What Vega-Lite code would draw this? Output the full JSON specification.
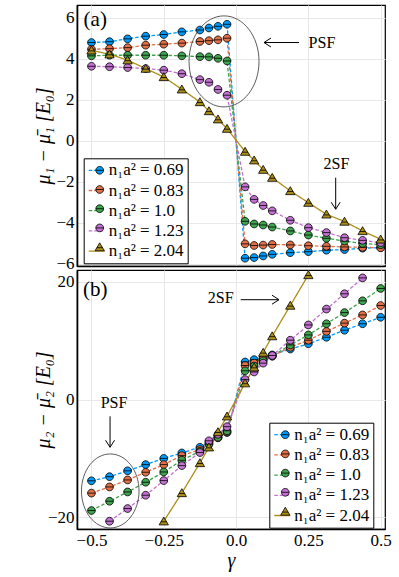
{
  "$schema": "https://vega.github.io/schema/vega-lite/v6.json",
  "padding": {"left": 32, "top": 4, "right": 5, "bottom": 5},
  "spacing": 4,
  "bounds": "flush",
  "config": {
    "font": "Liberation Serif",
    "view": {"stroke": "black", "strokeWidth": 1.2},
    "axis": {"grid": true, "gridColor": "#e8e8e8", "gridWidth": 1, "ticks": false, "domain": true, "domainColor": "black", "domainWidth": 1.6, "labelFont": "Liberation Serif", "labelFontSize": 17, "labelColor": "black", "titleFont": "Liberation Serif", "titleFontSize": 20, "titleFontWeight": "normal", "titleColor": "black", "labelPadding": 3, "labelFlush": false}
  },
  "resolve": {"scale": {"y": "independent", "color": "independent", "fill": "independent", "shape": "independent", "strokeDash": "independent"}, "legend": {"color": "independent", "fill": "independent", "shape": "independent", "strokeDash": "independent"}},
  "datasets": {
    "a": [
      {"s": "n₁a² = 0.69", "g": -0.5, "y": 4.80}, {"s": "n₁a² = 0.69", "g": -0.4375, "y": 4.84}, {"s": "n₁a² = 0.69", "g": -0.375, "y": 4.98}, {"s": "n₁a² = 0.69", "g": -0.3125, "y": 5.11}, {"s": "n₁a² = 0.69", "g": -0.25, "y": 5.19}, {"s": "n₁a² = 0.69", "g": -0.1875, "y": 5.32}, {"s": "n₁a² = 0.69", "g": -0.125, "y": 5.41}, {"s": "n₁a² = 0.69", "g": -0.09375, "y": 5.51}, {"s": "n₁a² = 0.69", "g": -0.0625, "y": 5.59}, {"s": "n₁a² = 0.69", "g": -0.03125, "y": 5.69},
      {"s": "n₁a² = 0.69", "g": 0.03125, "y": -5.72}, {"s": "n₁a² = 0.69", "g": 0.0625, "y": -5.69}, {"s": "n₁a² = 0.69", "g": 0.09375, "y": -5.61}, {"s": "n₁a² = 0.69", "g": 0.125, "y": -5.53}, {"s": "n₁a² = 0.69", "g": 0.1875, "y": -5.45}, {"s": "n₁a² = 0.69", "g": 0.25, "y": -5.40}, {"s": "n₁a² = 0.69", "g": 0.3125, "y": -5.33}, {"s": "n₁a² = 0.69", "g": 0.375, "y": -5.30}, {"s": "n₁a² = 0.69", "g": 0.4375, "y": -5.23}, {"s": "n₁a² = 0.69", "g": 0.5, "y": -5.20},
      {"s": "n₁a² = 0.83", "g": -0.5, "y": 4.47}, {"s": "n₁a² = 0.83", "g": -0.4375, "y": 4.50}, {"s": "n₁a² = 0.83", "g": -0.375, "y": 4.55}, {"s": "n₁a² = 0.83", "g": -0.3125, "y": 4.67}, {"s": "n₁a² = 0.83", "g": -0.25, "y": 4.72}, {"s": "n₁a² = 0.83", "g": -0.1875, "y": 4.77}, {"s": "n₁a² = 0.83", "g": -0.125, "y": 4.85}, {"s": "n₁a² = 0.83", "g": -0.09375, "y": 4.89}, {"s": "n₁a² = 0.83", "g": -0.0625, "y": 4.93}, {"s": "n₁a² = 0.83", "g": -0.03125, "y": 5.01},
      {"s": "n₁a² = 0.83", "g": 0.03125, "y": -5.02}, {"s": "n₁a² = 0.83", "g": 0.0625, "y": -5.10}, {"s": "n₁a² = 0.83", "g": 0.09375, "y": -5.08}, {"s": "n₁a² = 0.83", "g": 0.125, "y": -5.05}, {"s": "n₁a² = 0.83", "g": 0.1875, "y": -5.07}, {"s": "n₁a² = 0.83", "g": 0.25, "y": -5.11}, {"s": "n₁a² = 0.83", "g": 0.3125, "y": -5.14}, {"s": "n₁a² = 0.83", "g": 0.375, "y": -5.17}, {"s": "n₁a² = 0.83", "g": 0.4375, "y": -5.19}, {"s": "n₁a² = 0.83", "g": 0.5, "y": -5.21},
      {"s": "n₁a² = 1.0", "g": -0.5, "y": 4.15}, {"s": "n₁a² = 1.0", "g": -0.4375, "y": 4.18}, {"s": "n₁a² = 1.0", "g": -0.375, "y": 4.18}, {"s": "n₁a² = 1.0", "g": -0.3125, "y": 4.18}, {"s": "n₁a² = 1.0", "g": -0.25, "y": 4.18}, {"s": "n₁a² = 1.0", "g": -0.1875, "y": 4.15}, {"s": "n₁a² = 1.0", "g": -0.125, "y": 4.11}, {"s": "n₁a² = 1.0", "g": -0.09375, "y": 4.10}, {"s": "n₁a² = 1.0", "g": -0.0625, "y": 4.03}, {"s": "n₁a² = 1.0", "g": -0.03125, "y": 3.90},
      {"s": "n₁a² = 1.0", "g": 0.03125, "y": -3.92}, {"s": "n₁a² = 1.0", "g": 0.0625, "y": -4.05}, {"s": "n₁a² = 1.0", "g": 0.09375, "y": -4.10}, {"s": "n₁a² = 1.0", "g": 0.125, "y": -4.20}, {"s": "n₁a² = 1.0", "g": 0.1875, "y": -4.39}, {"s": "n₁a² = 1.0", "g": 0.25, "y": -4.59}, {"s": "n₁a² = 1.0", "g": 0.3125, "y": -4.75}, {"s": "n₁a² = 1.0", "g": 0.375, "y": -4.88}, {"s": "n₁a² = 1.0", "g": 0.4375, "y": -5.00}, {"s": "n₁a² = 1.0", "g": 0.5, "y": -5.06},
      {"s": "n₁a² = 1.23", "g": -0.5, "y": 3.64}, {"s": "n₁a² = 1.23", "g": -0.4375, "y": 3.62}, {"s": "n₁a² = 1.23", "g": -0.375, "y": 3.58}, {"s": "n₁a² = 1.23", "g": -0.3125, "y": 3.53}, {"s": "n₁a² = 1.23", "g": -0.25, "y": 3.45}, {"s": "n₁a² = 1.23", "g": -0.1875, "y": 3.28}, {"s": "n₁a² = 1.23", "g": -0.125, "y": 2.99}, {"s": "n₁a² = 1.23", "g": -0.09375, "y": 2.86}, {"s": "n₁a² = 1.23", "g": -0.0625, "y": 2.51}, {"s": "n₁a² = 1.23", "g": -0.03125, "y": 2.23},
      {"s": "n₁a² = 1.23", "g": 0.03125, "y": -2.24}, {"s": "n₁a² = 1.23", "g": 0.0625, "y": -2.85}, {"s": "n₁a² = 1.23", "g": 0.09375, "y": -3.15}, {"s": "n₁a² = 1.23", "g": 0.125, "y": -3.41}, {"s": "n₁a² = 1.23", "g": 0.1875, "y": -3.87}, {"s": "n₁a² = 1.23", "g": 0.25, "y": -4.23}, {"s": "n₁a² = 1.23", "g": 0.3125, "y": -4.47}, {"s": "n₁a² = 1.23", "g": 0.375, "y": -4.72}, {"s": "n₁a² = 1.23", "g": 0.4375, "y": -4.85}, {"s": "n₁a² = 1.23", "g": 0.5, "y": -4.96},
      {"s": "n₁a² = 2.04", "g": -0.5, "y": 4.42}, {"s": "n₁a² = 2.04", "g": -0.4375, "y": 4.23}, {"s": "n₁a² = 2.04", "g": -0.375, "y": 3.94}, {"s": "n₁a² = 2.04", "g": -0.3125, "y": 3.53}, {"s": "n₁a² = 2.04", "g": -0.25, "y": 3.12}, {"s": "n₁a² = 2.04", "g": -0.1875, "y": 2.52}, {"s": "n₁a² = 2.04", "g": -0.125, "y": 1.90}, {"s": "n₁a² = 2.04", "g": -0.09375, "y": 1.46}, {"s": "n₁a² = 2.04", "g": -0.0625, "y": 1.06}, {"s": "n₁a² = 2.04", "g": -0.03125, "y": 0.60},
      {"s": "n₁a² = 2.04", "g": 0.03125, "y": -0.52}, {"s": "n₁a² = 2.04", "g": 0.0625, "y": -0.94}, {"s": "n₁a² = 2.04", "g": 0.09375, "y": -1.40}, {"s": "n₁a² = 2.04", "g": 0.125, "y": -1.79}, {"s": "n₁a² = 2.04", "g": 0.1875, "y": -2.44}, {"s": "n₁a² = 2.04", "g": 0.25, "y": -3.01}, {"s": "n₁a² = 2.04", "g": 0.3125, "y": -3.58}, {"s": "n₁a² = 2.04", "g": 0.375, "y": -3.93}, {"s": "n₁a² = 2.04", "g": 0.4375, "y": -4.39}, {"s": "n₁a² = 2.04", "g": 0.5, "y": -4.80}
    ],
    "b": [
      {"s": "n₁a² = 0.69", "g": -0.5, "y": -13.8}, {"s": "n₁a² = 0.69", "g": -0.4375, "y": -13.1}, {"s": "n₁a² = 0.69", "g": -0.375, "y": -12.1}, {"s": "n₁a² = 0.69", "g": -0.3125, "y": -11.05}, {"s": "n₁a² = 0.69", "g": -0.25, "y": -10.0}, {"s": "n₁a² = 0.69", "g": -0.1875, "y": -9.07}, {"s": "n₁a² = 0.69", "g": -0.125, "y": -8.1}, {"s": "n₁a² = 0.69", "g": -0.09375, "y": -7.2}, {"s": "n₁a² = 0.69", "g": -0.0625, "y": -6.4}, {"s": "n₁a² = 0.69", "g": -0.03125, "y": -5.6},
      {"s": "n₁a² = 0.69", "g": 0.03125, "y": 6.4}, {"s": "n₁a² = 0.69", "g": 0.0625, "y": 6.8}, {"s": "n₁a² = 0.69", "g": 0.09375, "y": 7.2}, {"s": "n₁a² = 0.69", "g": 0.125, "y": 7.6}, {"s": "n₁a² = 0.69", "g": 0.1875, "y": 8.6}, {"s": "n₁a² = 0.69", "g": 0.25, "y": 9.5}, {"s": "n₁a² = 0.69", "g": 0.3125, "y": 10.6}, {"s": "n₁a² = 0.69", "g": 0.375, "y": 11.8}, {"s": "n₁a² = 0.69", "g": 0.4375, "y": 12.9}, {"s": "n₁a² = 0.69", "g": 0.5, "y": 14.0},
      {"s": "n₁a² = 0.83", "g": -0.5, "y": -15.9}, {"s": "n₁a² = 0.83", "g": -0.4375, "y": -14.85}, {"s": "n₁a² = 0.83", "g": -0.375, "y": -13.66}, {"s": "n₁a² = 0.83", "g": -0.3125, "y": -12.35}, {"s": "n₁a² = 0.83", "g": -0.25, "y": -11.05}, {"s": "n₁a² = 0.83", "g": -0.1875, "y": -9.52}, {"s": "n₁a² = 0.83", "g": -0.125, "y": -8.5}, {"s": "n₁a² = 0.83", "g": -0.09375, "y": -7.4}, {"s": "n₁a² = 0.83", "g": -0.0625, "y": -6.5}, {"s": "n₁a² = 0.83", "g": -0.03125, "y": -5.5},
      {"s": "n₁a² = 0.83", "g": 0.03125, "y": 5.8}, {"s": "n₁a² = 0.83", "g": 0.0625, "y": 6.2}, {"s": "n₁a² = 0.83", "g": 0.09375, "y": 6.9}, {"s": "n₁a² = 0.83", "g": 0.125, "y": 7.4}, {"s": "n₁a² = 0.83", "g": 0.1875, "y": 8.9}, {"s": "n₁a² = 0.83", "g": 0.25, "y": 10.1}, {"s": "n₁a² = 0.83", "g": 0.3125, "y": 11.6}, {"s": "n₁a² = 0.83", "g": 0.375, "y": 13.0}, {"s": "n₁a² = 0.83", "g": 0.4375, "y": 14.4}, {"s": "n₁a² = 0.83", "g": 0.5, "y": 16.0},
      {"s": "n₁a² = 1.0", "g": -0.5, "y": -18.86}, {"s": "n₁a² = 1.0", "g": -0.4375, "y": -17.28}, {"s": "n₁a² = 1.0", "g": -0.375, "y": -15.7}, {"s": "n₁a² = 1.0", "g": -0.3125, "y": -14.05}, {"s": "n₁a² = 1.0", "g": -0.25, "y": -12.3}, {"s": "n₁a² = 1.0", "g": -0.1875, "y": -10.31}, {"s": "n₁a² = 1.0", "g": -0.125, "y": -8.8}, {"s": "n₁a² = 1.0", "g": -0.09375, "y": -7.6}, {"s": "n₁a² = 1.0", "g": -0.0625, "y": -6.4}, {"s": "n₁a² = 1.0", "g": -0.03125, "y": -5.3},
      {"s": "n₁a² = 1.0", "g": 0.03125, "y": 4.9}, {"s": "n₁a² = 1.0", "g": 0.0625, "y": 5.7}, {"s": "n₁a² = 1.0", "g": 0.09375, "y": 6.6}, {"s": "n₁a² = 1.0", "g": 0.125, "y": 7.4}, {"s": "n₁a² = 1.0", "g": 0.1875, "y": 9.3}, {"s": "n₁a² = 1.0", "g": 0.25, "y": 11.0}, {"s": "n₁a² = 1.0", "g": 0.3125, "y": 12.9}, {"s": "n₁a² = 1.0", "g": 0.375, "y": 14.8}, {"s": "n₁a² = 1.0", "g": 0.4375, "y": 16.8}, {"s": "n₁a² = 1.0", "g": 0.5, "y": 18.9},
      {"s": "n₁a² = 1.23", "g": -0.4375, "y": -20.68}, {"s": "n₁a² = 1.23", "g": -0.375, "y": -18.52}, {"s": "n₁a² = 1.23", "g": -0.3125, "y": -16.26}, {"s": "n₁a² = 1.23", "g": -0.25, "y": -13.77}, {"s": "n₁a² = 1.23", "g": -0.1875, "y": -11.22}, {"s": "n₁a² = 1.23", "g": -0.125, "y": -9.0}, {"s": "n₁a² = 1.23", "g": -0.09375, "y": -7.0}, {"s": "n₁a² = 1.23", "g": -0.0625, "y": -5.9}, {"s": "n₁a² = 1.23", "g": -0.03125, "y": -4.6},
      {"s": "n₁a² = 1.23", "g": 0.03125, "y": 3.4}, {"s": "n₁a² = 1.23", "g": 0.0625, "y": 4.7}, {"s": "n₁a² = 1.23", "g": 0.09375, "y": 6.2}, {"s": "n₁a² = 1.23", "g": 0.125, "y": 7.5}, {"s": "n₁a² = 1.23", "g": 0.1875, "y": 10.1}, {"s": "n₁a² = 1.23", "g": 0.25, "y": 12.7}, {"s": "n₁a² = 1.23", "g": 0.3125, "y": 15.4}, {"s": "n₁a² = 1.23", "g": 0.375, "y": 18.0}, {"s": "n₁a² = 1.23", "g": 0.4375, "y": 20.7},
      {"s": "n₁a² = 2.04", "g": -0.25, "y": -20.68}, {"s": "n₁a² = 2.04", "g": -0.1875, "y": -15.87}, {"s": "n₁a² = 2.04", "g": -0.125, "y": -10.77}, {"s": "n₁a² = 2.04", "g": -0.09375, "y": -8.1}, {"s": "n₁a² = 2.04", "g": -0.0625, "y": -5.5}, {"s": "n₁a² = 2.04", "g": -0.03125, "y": -2.83},
      {"s": "n₁a² = 2.04", "g": 0.03125, "y": 2.8}, {"s": "n₁a² = 2.04", "g": 0.0625, "y": 5.5}, {"s": "n₁a² = 2.04", "g": 0.09375, "y": 8.0}, {"s": "n₁a² = 2.04", "g": 0.125, "y": 10.8}, {"s": "n₁a² = 2.04", "g": 0.1875, "y": 16.0}, {"s": "n₁a² = 2.04", "g": 0.25, "y": 21.2}
    ],
    "ann": [
      {"p": "a", "k": "ellipse", "g": -0.0416, "y": 3.88},
      {"p": "b", "k": "ellipse", "g": -0.435, "y": -15.53},
      {"p": "a", "k": "arrow", "dir": "left", "g": 0.2176, "y": 4.80, "g2": 0.0966, "y2": 4.80},
      {"p": "a", "k": "arrow", "dir": "down", "g": 0.3445, "y": -1.79, "g2": 0.3445, "y2": -3.33},
      {"p": "b", "k": "arrow", "dir": "right", "g": 0.016, "y": 16.99, "g2": 0.1485, "y2": 16.99},
      {"p": "b", "k": "arrow", "dir": "down", "g": -0.4357, "y": -2.84, "g2": -0.4357, "y2": -8.1},
      {"p": "a", "k": "tag", "t": "(a)", "g": -0.487, "y": 5.90},
      {"p": "b", "k": "tag", "t": "(b)", "g": -0.487, "y": 18.57},
      {"p": "a", "k": "note", "t": "PSF", "g": 0.297, "y": 4.78},
      {"p": "a", "k": "note", "t": "2SF", "g": 0.347, "y": -1.12},
      {"p": "b", "k": "note", "t": "2SF", "g": -0.053, "y": 17.26},
      {"p": "b", "k": "note", "t": "PSF", "g": -0.422, "y": -0.58}
    ]
  },
  "vconcat": [
    {
      "width": 308,
      "height": 261,
      "layer": [
        {
          "data": {"name": "a"},
          "mark": {"type": "line", "strokeWidth": 1.3, "clip": true},
          "encoding": {
            "x": {"field": "g", "type": "quantitative", "scale": {"domain": [-0.55, 0.515], "nice": false, "zero": false}, "axis": {"values": [-0.5, -0.25, 0, 0.25, 0.5], "labels": false, "title": null, "minExtent": 0, "maxExtent": 0}},
            "y": {"field": "y", "type": "quantitative", "scale": {"domain": [-6.1, 6.63], "nice": false, "zero": false}, "axis": {"values": [-6, -4, -2, 0, 2, 4, 6], "title": "μ₁ − μ̄₁ [E₀]", "titleFontStyle": "italic", "minExtent": 34, "maxExtent": 34, "titlePadding": -10}},
            "color": {"field": "s", "type": "nominal", "scale": {"domain": ["n₁a² = 0.69", "n₁a² = 0.83", "n₁a² = 1.0", "n₁a² = 1.23", "n₁a² = 2.04"], "range": ["#009AFA", "#E36F47", "#3EA44E", "#C371D2", "#AC8E18"]}, "legend": {"orient": "none", "legendX": 6.7, "legendY": 153.3, "title": null, "symbolType": "stroke", "symbolSize": 256, "symbolStrokeWidth": 1.3, "clipHeight": 16, "labelFontSize": 17, "labelFont": "Liberation Serif", "labelColor": "black", "labelOffset": 3, "rowPadding": 3.2, "padding": 4, "fillColor": "white", "strokeColor": "black", "cornerRadius": 0}},
            "strokeDash": {"field": "s", "type": "nominal", "scale": {"domain": ["n₁a² = 0.69", "n₁a² = 0.83", "n₁a² = 1.0", "n₁a² = 1.23", "n₁a² = 2.04"], "range": [[3.5, 2], [3.5, 2], [3.5, 2], [3.5, 2], [1, 0]]}}
          }
        },
        {
          "data": {"name": "a"},
          "mark": {"type": "point", "filled": true, "stroke": "black", "strokeWidth": 0.8, "opacity": 1, "size": 60, "clip": true},
          "encoding": {
            "x": {"field": "g", "type": "quantitative"},
            "y": {"field": "y", "type": "quantitative"},
            "fill": {"field": "s", "type": "nominal", "scale": {"range": ["#009AFA", "#E36F47", "#3EA44E", "#C371D2", "#AC8E18"]}, "legend": {"orient": "none", "legendX": 10.7, "legendY": 153.3, "title": null, "symbolSize": 60, "symbolStrokeColor": "black", "symbolStrokeWidth": 0.8, "symbolOpacity": 1, "clipHeight": 16, "labelExpr": "''", "labelFontSize": 16, "labelFont": "Liberation Serif", "labelOffset": 11, "rowPadding": 3.2, "padding": 4}},
            "shape": {"field": "s", "type": "nominal", "scale": {"range": ["M-1,0A1,1,0,1,0,1,0A1,1,0,1,0,-1,0ZM-1,0L1,0", "M-1,0A1,1,0,1,0,1,0A1,1,0,1,0,-1,0ZM-1,0L1,0", "M-1,0A1,1,0,1,0,1,0A1,1,0,1,0,-1,0ZM-1,0L1,0", "M-1,0A1,1,0,1,0,1,0A1,1,0,1,0,-1,0ZM-1,0L1,0", "M0,-1.1L1.2,0.95L-1.2,0.95ZM-0.75,0.15L0.75,0.15"]}}
          }
        },
        {
          "data": {"name": "ann"},
          "transform": [{"filter": "datum.p == 'a' && datum.k == 'ellipse'"}],
          "mark": {"type": "point", "shape": "M-0.769,0A0.769,1,0,1,0,0.769,0A0.769,1,0,1,0,-0.769,0Z", "size": 8281, "filled": false, "stroke": "#333333", "strokeWidth": 0.8, "opacity": 1},
          "encoding": {"x": {"field": "g", "type": "quantitative"}, "y": {"field": "y", "type": "quantitative"}}
        },
        {
          "data": {"name": "ann"},
          "transform": [{"filter": "datum.p == 'a' && datum.k == 'arrow'"}],
          "mark": {"type": "rule", "stroke": "black", "strokeWidth": 1},
          "encoding": {"x": {"field": "g", "type": "quantitative"}, "y": {"field": "y", "type": "quantitative"}, "x2": {"field": "g2"}, "y2": {"field": "y2"}}
        },
        {
          "data": {"name": "ann"},
          "transform": [{"filter": "datum.p == 'a' && datum.dir == 'left'"}],
          "mark": {"type": "point", "shape": "M1,-0.64L0,0L1,0.64", "size": 196, "filled": false, "stroke": "black", "strokeWidth": 1, "opacity": 1},
          "encoding": {"x": {"field": "g2", "type": "quantitative"}, "y": {"field": "y2", "type": "quantitative"}}
        },
        {
          "data": {"name": "ann"},
          "transform": [{"filter": "datum.p == 'a' && datum.dir == 'down'"}],
          "mark": {"type": "point", "shape": "M-0.64,-1L0,0L0.64,-1", "size": 196, "filled": false, "stroke": "black", "strokeWidth": 1, "opacity": 1},
          "encoding": {"x": {"field": "g2", "type": "quantitative"}, "y": {"field": "y2", "type": "quantitative"}}
        },
        {
          "data": {"name": "ann"},
          "transform": [{"filter": "datum.p == 'a' && datum.k == 'tag'"}],
          "mark": {"type": "text", "font": "Liberation Serif", "fontSize": 21, "align": "center", "baseline": "middle", "color": "black"},
          "encoding": {"x": {"field": "g", "type": "quantitative"}, "y": {"field": "y", "type": "quantitative"}, "text": {"field": "t"}}
        },
        {
          "data": {"name": "ann"},
          "transform": [{"filter": "datum.p == 'a' && datum.k == 'note'"}],
          "mark": {"type": "text", "font": "Liberation Serif", "fontSize": 16, "align": "center", "baseline": "middle", "color": "black"},
          "encoding": {"x": {"field": "g", "type": "quantitative"}, "y": {"field": "y", "type": "quantitative"}, "text": {"field": "t"}}
        }
      ]
    },
    {
      "width": 308,
      "height": 259,
      "layer": [
        {
          "data": {"name": "b"},
          "mark": {"type": "line", "strokeWidth": 1.3, "clip": true},
          "encoding": {
            "x": {"field": "g", "type": "quantitative", "scale": {"domain": [-0.55, 0.515], "nice": false, "zero": false}, "axis": {"values": [-0.5, -0.25, 0, 0.25, 0.5], "labelExpr": "datum.value == 0 ? '0.0' : format(datum.value, '~g')", "title": "γ", "titleFontStyle": "italic", "titlePadding": 2}},
            "y": {"field": "y", "type": "quantitative", "scale": {"domain": [-22, 22.04], "nice": false, "zero": false}, "axis": {"values": [-20, 0, 20], "title": "μ₂ − μ̄₂ [E₀]", "titleFontStyle": "italic", "minExtent": 34, "maxExtent": 34, "titlePadding": -10}},
            "color": {"field": "s", "type": "nominal", "scale": {"domain": ["n₁a² = 0.69", "n₁a² = 0.83", "n₁a² = 1.0", "n₁a² = 1.23", "n₁a² = 2.04"], "range": ["#009AFA", "#E36F47", "#3EA44E", "#C371D2", "#AC8E18"]}, "legend": {"orient": "none", "legendX": 192.3, "legendY": 152.7, "title": null, "symbolType": "stroke", "symbolSize": 256, "symbolStrokeWidth": 1.3, "clipHeight": 16, "labelFontSize": 17, "labelFont": "Liberation Serif", "labelColor": "black", "labelOffset": 3, "rowPadding": 3.2, "padding": 4, "fillColor": "white", "strokeColor": "black", "cornerRadius": 0}},
            "strokeDash": {"field": "s", "type": "nominal", "scale": {"domain": ["n₁a² = 0.69", "n₁a² = 0.83", "n₁a² = 1.0", "n₁a² = 1.23", "n₁a² = 2.04"], "range": [[3.5, 2], [3.5, 2], [3.5, 2], [3.5, 2], [1, 0]]}}
          }
        },
        {
          "data": {"name": "b"},
          "mark": {"type": "point", "filled": true, "stroke": "black", "strokeWidth": 0.8, "opacity": 1, "size": 60, "clip": true},
          "encoding": {
            "x": {"field": "g", "type": "quantitative"},
            "y": {"field": "y", "type": "quantitative"},
            "fill": {"field": "s", "type": "nominal", "scale": {"range": ["#009AFA", "#E36F47", "#3EA44E", "#C371D2", "#AC8E18"]}, "legend": {"orient": "none", "legendX": 196.3, "legendY": 152.7, "title": null, "symbolSize": 60, "symbolStrokeColor": "black", "symbolStrokeWidth": 0.8, "symbolOpacity": 1, "clipHeight": 16, "labelExpr": "''", "labelFontSize": 16, "labelFont": "Liberation Serif", "labelOffset": 11, "rowPadding": 3.2, "padding": 4}},
            "shape": {"field": "s", "type": "nominal", "scale": {"range": ["M-1,0A1,1,0,1,0,1,0A1,1,0,1,0,-1,0ZM-1,0L1,0", "M-1,0A1,1,0,1,0,1,0A1,1,0,1,0,-1,0ZM-1,0L1,0", "M-1,0A1,1,0,1,0,1,0A1,1,0,1,0,-1,0ZM-1,0L1,0", "M-1,0A1,1,0,1,0,1,0A1,1,0,1,0,-1,0ZM-1,0L1,0", "M0,-1.1L1.2,0.95L-1.2,0.95ZM-0.75,0.15L0.75,0.15"]}}
          }
        },
        {
          "data": {"name": "ann"},
          "transform": [{"filter": "datum.p == 'b' && datum.k == 'ellipse'"}],
          "mark": {"type": "point", "shape": "M-0.778,0A0.778,1,0,1,0,0.778,0A0.778,1,0,1,0,-0.778,0Z", "size": 5476, "filled": false, "stroke": "#333333", "strokeWidth": 0.8, "opacity": 1},
          "encoding": {"x": {"field": "g", "type": "quantitative"}, "y": {"field": "y", "type": "quantitative"}}
        },
        {
          "data": {"name": "ann"},
          "transform": [{"filter": "datum.p == 'b' && datum.k == 'arrow'"}],
          "mark": {"type": "rule", "stroke": "black", "strokeWidth": 1},
          "encoding": {"x": {"field": "g", "type": "quantitative"}, "y": {"field": "y", "type": "quantitative"}, "x2": {"field": "g2"}, "y2": {"field": "y2"}}
        },
        {
          "data": {"name": "ann"},
          "transform": [{"filter": "datum.p == 'b' && datum.dir == 'right'"}],
          "mark": {"type": "point", "shape": "M-1,-0.64L0,0L-1,0.64", "size": 196, "filled": false, "stroke": "black", "strokeWidth": 1, "opacity": 1},
          "encoding": {"x": {"field": "g2", "type": "quantitative"}, "y": {"field": "y2", "type": "quantitative"}}
        },
        {
          "data": {"name": "ann"},
          "transform": [{"filter": "datum.p == 'b' && datum.dir == 'down'"}],
          "mark": {"type": "point", "shape": "M-0.64,-1L0,0L0.64,-1", "size": 196, "filled": false, "stroke": "black", "strokeWidth": 1, "opacity": 1},
          "encoding": {"x": {"field": "g2", "type": "quantitative"}, "y": {"field": "y2", "type": "quantitative"}}
        },
        {
          "data": {"name": "ann"},
          "transform": [{"filter": "datum.p == 'b' && datum.k == 'tag'"}],
          "mark": {"type": "text", "font": "Liberation Serif", "fontSize": 21, "align": "center", "baseline": "middle", "color": "black"},
          "encoding": {"x": {"field": "g", "type": "quantitative"}, "y": {"field": "y", "type": "quantitative"}, "text": {"field": "t"}}
        },
        {
          "data": {"name": "ann"},
          "transform": [{"filter": "datum.p == 'b' && datum.k == 'note'"}],
          "mark": {"type": "text", "font": "Liberation Serif", "fontSize": 16, "align": "center", "baseline": "middle", "color": "black"},
          "encoding": {"x": {"field": "g", "type": "quantitative"}, "y": {"field": "y", "type": "quantitative"}, "text": {"field": "t"}}
        }
      ]
    }
  ]
}
